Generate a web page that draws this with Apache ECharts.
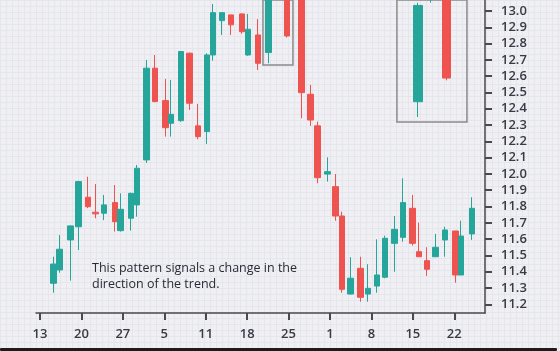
<!DOCTYPE html>
<html><head><meta charset="utf-8">
<script src="https://cdn.jsdelivr.net/npm/echarts@6/dist/echarts.min.js"></script>
<style>html,body{margin:0;padding:0;background:#efeff4}#c{width:560px;height:351px}</style>
</head><body><div id="c"></div>
<script>
// x position of each candle in trading-day units (0 = first labelled tick "13")
const dayPos = [1.65,2.35,3.68,4.65,5.77,6.72,7.72,9.05,9.72,10.98,11.71,12.83,13.88,15.12,15.81,17.02,18.04,19.10,20.15,20.88,21.96,23.05,24.38,25.10,26.31,27.60,28.59,29.83,31.58,32.62,33.49,34.70,35.65,36.48,37.50,38.70,39.56,40.67,41.64,42.78,43.81,44.93,45.74,46.73,47.71,48.91,50.12,50.83,52.14];
const opens  = [11.329,11.411,11.595,11.676,11.857,11.765,11.759,11.824,11.652,11.728,11.81,12.086,12.649,12.45,12.311,12.327,12.741,12.295,12.26,12.73,12.941,12.976,12.982,12.73,12.853,12.745,13.25,13.2,13.1,12.489,12.295,11.999,11.922,11.742,11.263,11.421,11.263,11.312,11.366,11.574,11.611,11.789,11.523,11.468,11.492,11.595,11.65,11.38,11.632];
const closes = [11.447,11.538,11.681,11.953,11.799,11.755,11.81,11.707,11.783,11.881,12.035,12.649,12.444,12.284,12.366,12.751,12.434,12.229,12.73,12.99,12.99,12.915,12.873,12.888,12.679,13.16,13.4,12.847,12.499,12.331,11.977,12.014,11.742,11.292,11.36,11.243,11.298,11.38,11.605,11.66,11.824,11.574,11.492,11.415,11.55,11.656,11.38,11.619,11.789];
const lows   = [11.271,11.394,11.345,11.533,11.79,11.728,11.717,11.646,11.646,11.652,11.738,12.067,12.44,12.229,12.229,12.32,12.393,12.213,12.184,12.695,12.853,12.853,12.86,12.725,12.638,12.679,13.172,12.837,12.342,12.295,11.943,11.953,11.713,11.271,11.26,11.216,11.216,11.271,11.36,11.4,11.584,11.56,11.49,11.374,11.49,11.492,11.333,11.38,11.595];
const highs  = [11.492,11.625,11.685,11.958,11.983,11.938,11.871,11.932,11.881,11.885,12.055,12.7,12.73,12.583,12.577,12.755,12.745,12.43,12.741,13.043,12.99,12.976,12.985,12.982,12.95,13.172,13.45,13.22,13.12,12.546,12.321,12.102,12.0,11.768,11.489,11.492,11.446,11.599,11.621,11.742,11.973,11.871,11.701,11.55,11.632,11.676,11.65,11.713,11.857];
const tickDays = [0,5,10,15,20,25,30,35,40,45,50];
const tickLabels = ['13','20','27','5','11','18','25','1','8','15','22'];
const priceTicks = [11.2,11.3,11.4,11.5,11.6,11.7,11.8,11.9,12.0,12.1,12.2,12.3,12.4,12.5,12.6,12.7,12.8,12.9,13.0];
const patternIdx = [25,26,27];
const highlightBox = {x0: 26.91, x1: 30.53, y0: 12.669, y1: 13.4};
const zoomBox = {x0: 43.08, x1: 51.53, y0: 12.319, y1: 13.4};
const noteLines = ['This pattern signals a change in the', 'direction of the trend.'];

const UP = '#26a69a', DOWN = '#ef5350';
const candles = dayPos.map((x, i) => [x, opens[i], closes[i], lows[i], highs[i]]);
const pattern = patternIdx.map(i => candles[i]);
const FONT = '"Open Sans", "Noto Sans", sans-serif';
const boxArea = b => [{coord: [b.x0, b.y0]}, {coord: [b.x1, b.y1]}];

const chart = echarts.init(document.getElementById('c'), null, {renderer: 'canvas'});
chart.setOption({
  backgroundColor: '#efeff4',
  animation: false,
  grid: [
    {left: 36, right: 75, top: 0, bottom: 38, z: 2},
    {left: 397, width: 70, top: 0, height: 122, z: 3},
    {left: 0, right: 0, top: 0, bottom: 0, z: -10}
  ],
  xAxis: [
    {type: 'value', gridIndex: 0, min: -0.483, max: 53.71, z: 2,
     axisLine: {show: true, onZero: false, lineStyle: {color: '#4a4a4a', width: 1.5}},
     axisTick: {show: true, length: 7, lineStyle: {color: '#4a4a4a', width: 2}, customValues: tickDays},
     axisLabel: {customValues: tickDays, formatter: v => tickLabels[Math.round(v / 5)], margin: 15,
       color: '#3a3a44', fontSize: 13, fontFamily: FONT, fontWeight: 600},
     splitLine: {show: false}},
    {type: 'value', gridIndex: 1, min: 25.97, max: 31.41, show: false},
    {type: 'value', gridIndex: 2, min: 0, max: 560, interval: 6, show: true, z: -10,
     axisLine: {show: false}, axisTick: {show: false}, axisLabel: {show: false},
     splitLine: {show: true, lineStyle: {color: '#e5e5ec', width: 1}}}
  ],
  yAxis: [
    {type: 'value', gridIndex: 0, position: 'right', min: 11.1466, max: 13.0675, z: 2,
     axisLine: {show: true, onZero: false, lineStyle: {color: '#4a4a4a', width: 1.5}},
     axisTick: {show: true, length: 7, lineStyle: {color: '#4a4a4a', width: 2}, customValues: priceTicks},
     axisLabel: {customValues: priceTicks, formatter: v => v.toFixed(1), margin: 16,
       color: '#3a3a44', fontSize: 13, fontFamily: FONT, fontWeight: 600},
     splitLine: {show: false}},
    {type: 'value', gridIndex: 1, min: 12.6575, max: 13.1834, show: false},
    {type: 'value', gridIndex: 2, min: 0, max: 351, interval: 6, inverse: true, show: true, z: -10,
     axisLine: {show: false}, axisTick: {show: false}, axisLabel: {show: false},
     splitLine: {show: true, lineStyle: {color: '#e5e5ec', width: 1}}}
  ],
  series: [
    {type: 'candlestick', xAxisIndex: 0, yAxisIndex: 0, data: candles, z: 3,
     encode: {x: 0, y: [1, 2, 3, 4]}, barWidth: 6, clip: true,
     itemStyle: {color: UP, color0: DOWN, borderColor: UP, borderColor0: DOWN, borderWidth: 1},
     markArea: {silent: true,
       itemStyle: {color: 'rgba(0,0,0,0)', borderColor: '#8c8c8c', borderWidth: 1.5},
       label: {show: false},
       data: [boxArea(highlightBox), boxArea(zoomBox)]}},
    {type: 'candlestick', xAxisIndex: 1, yAxisIndex: 1, data: pattern, z: 3,
     encode: {x: 0, y: [1, 2, 3, 4]}, barWidth: 9, clip: true,
     itemStyle: {color: UP, color0: DOWN, borderColor: UP, borderColor0: DOWN, borderWidth: 1}}
  ],
  graphic: [
    {type: 'text', left: 92, top: 260, z: 10,
     style: {text: noteLines.join('\n'), fill: '#2a2a34', font: '500 12.5px ' + FONT, lineHeight: 16}},
    {type: 'rect', left: 0, top: 348, z: 10, shape: {width: 557, height: 3, r: 1}, style: {fill: '#1c1c1c'}}
  ]
});
</script></body></html>
